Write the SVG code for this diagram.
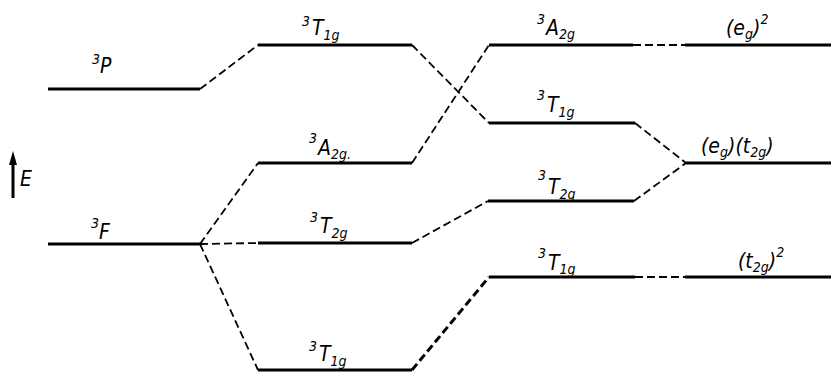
<svg xmlns="http://www.w3.org/2000/svg" width="833" height="374" viewBox="0 0 833 374">
<style>
.lvl{stroke:#000;stroke-width:3;fill:none;stroke-linecap:butt}
.dash{stroke:#000;stroke-width:1.8;fill:none;stroke-dasharray:8 4}
.thick{stroke-width:3}
text{font-family:"DejaVu Sans Condensed","DejaVu Sans","Liberation Sans",sans-serif;font-style:italic;fill:#000}
.m{font-size:21px}
.s{font-size:14px}
</style>
<rect width="833" height="374" fill="#fff"/>
<g id="energy-axis">
<line x1="13" y1="198" x2="13" y2="162" stroke="#000" stroke-width="3"/>
<polygon points="13,151 9,165 17,165" fill="#000"/>
<text class="m" x="20" y="186">E</text>
</g>
<g id="free-3P">
<line class="lvl" x1="48" y1="89" x2="200" y2="89"/>
<text x="92"><tspan class="s" y="64">3</tspan><tspan class="m" y="73">P</tspan></text>
</g>
<g id="free-3F">
<line class="lvl" x1="48" y1="244" x2="200" y2="244"/>
<text x="91"><tspan class="s" y="228">3</tspan><tspan class="m" y="239">F</tspan></text>
</g>
<g id="weak-3T1g-P">
<line class="lvl" x1="258" y1="45" x2="412" y2="45"/>
<text x="302"><tspan class="s" y="26">3</tspan><tspan class="m" y="35" dx="2">T</tspan><tspan class="s" y="40">1g</tspan></text>
</g>
<g id="weak-3A2g">
<line class="lvl" x1="258" y1="163" x2="412" y2="163"/>
<text x="309"><tspan class="s" y="143">3</tspan><tspan class="m" y="155" dx="1">A</tspan><tspan class="s" y="159">2g.</tspan></text>
</g>
<g id="weak-3T2g">
<line class="lvl" x1="258" y1="243" x2="412" y2="243"/>
<text x="310"><tspan class="s" y="222">3</tspan><tspan class="m" y="233" dx="2">T</tspan><tspan class="s" y="238">2g</tspan></text>
</g>
<g id="weak-3T1g-F">
<line class="lvl" x1="258" y1="370" x2="412" y2="370"/>
<text x="309"><tspan class="s" y="351">3</tspan><tspan class="m" y="361" dx="2">T</tspan><tspan class="s" y="366">1g</tspan></text>
</g>
<g id="strong-3A2g">
<line class="lvl" x1="489" y1="45" x2="633" y2="45"/>
<text x="537"><tspan class="s" y="24">3</tspan><tspan class="m" y="35" dx="1">A</tspan><tspan class="s" y="39">2g</tspan></text>
</g>
<g id="strong-3T1g-up">
<line class="lvl" x1="489" y1="123" x2="635" y2="123"/>
<text x="537"><tspan class="s" y="100">3</tspan><tspan class="m" y="112" dx="2">T</tspan><tspan class="s" y="117">1g</tspan></text>
</g>
<g id="strong-3T2g">
<line class="lvl" x1="488" y1="201" x2="634" y2="201"/>
<text x="538"><tspan class="s" y="180">3</tspan><tspan class="m" y="194" dx="2">T</tspan><tspan class="s" y="199">2g</tspan></text>
</g>
<g id="strong-3T1g-low">
<line class="lvl" x1="489" y1="277" x2="635" y2="277"/>
<text x="538"><tspan class="s" y="258">3</tspan><tspan class="m" y="270" dx="2">T</tspan><tspan class="s" y="274">1g</tspan></text>
</g>
<g id="config-eg2">
<line class="lvl" x1="685" y1="45" x2="831" y2="45"/>
<text x="726"><tspan class="m" y="35">(e</tspan><tspan class="s" y="39">g</tspan><tspan class="m" y="35">)</tspan><tspan class="s" y="24">2</tspan></text>
</g>
<g id="config-egt2g">
<line class="lvl" x1="686" y1="163" x2="831" y2="163"/>
<text x="701"><tspan class="m" y="153">(e</tspan><tspan class="s" y="157">g</tspan><tspan class="m" y="153">)(t</tspan><tspan class="s" y="157">2g</tspan><tspan class="m" y="153">)</tspan></text>
</g>
<g id="config-t2g2">
<line class="lvl" x1="685" y1="277" x2="831" y2="277"/>
<text x="738"><tspan class="m" y="268">(t</tspan><tspan class="s" y="272">2g</tspan><tspan class="m" y="268">)</tspan><tspan class="s" y="257">2</tspan></text>
</g>
<g id="connectors">
<line class="dash" x1="200" y1="89" x2="258" y2="45"/>
<line class="dash" x1="200" y1="244" x2="258" y2="163"/>
<line class="dash" x1="200" y1="244" x2="258" y2="243"/>
<line class="dash" x1="200" y1="244" x2="258" y2="370"/>
<line class="dash" x1="412" y1="45" x2="489" y2="123"/>
<line class="dash" x1="412" y1="163" x2="489" y2="45"/>
<line class="dash" x1="412" y1="243" x2="488" y2="201"/>
<line class="dash thick" x1="412" y1="370" x2="489" y2="277"/>
<line class="dash" x1="635" y1="123" x2="686" y2="163"/>
<line class="dash" x1="634" y1="201" x2="686" y2="163"/>
<line class="dash" x1="633" y1="45" x2="685" y2="45"/>
<line class="dash" x1="635" y1="277" x2="685" y2="277"/>
</g>
</svg>
